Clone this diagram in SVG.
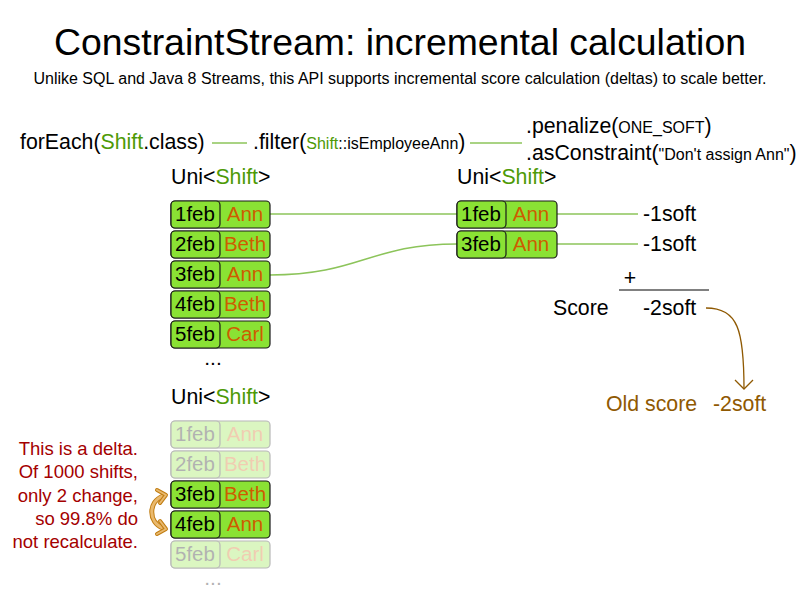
<svg xmlns="http://www.w3.org/2000/svg" width="800" height="600" viewBox="0 0 800 600">
<defs>
<style>
text{font-family:"Liberation Sans",Arial,sans-serif;fill:#000}
.g{fill:#4e9a06}
.o{fill:#ce5c00}
.cell{fill:#8ae234;stroke:#1a1a1a;stroke-width:1.2}
.d{font-size:20.5px}
.n{font-size:20.5px;text-anchor:middle}
.t{font-size:21.3px}
.s{font-size:16px}
.conn{fill:none;stroke:#8cc45a;stroke-width:1.5}
.fade{opacity:0.3}
.red{fill:#a40000;font-size:18.5px;text-anchor:end}
.br{fill:#8f5902}
</style>
<marker id="chev" viewBox="0 0 20 20" refX="10" refY="10" markerWidth="20" markerHeight="20" markerUnits="userSpaceOnUse" orient="auto">
<path d="M1,1 L10,10 L1,19" fill="none" stroke="#8f5902" stroke-width="1.3"/>
</marker>
</defs>
<rect width="800" height="600" fill="#fff"/>
<g id="title">
<text x="400" y="55" font-size="37.4" text-anchor="middle">ConstraintStream: incremental calculation</text>
<text x="400" y="84" font-size="16" text-anchor="middle">Unlike SQL and Java 8 Streams, this API supports incremental score calculation (deltas) to scale better.</text>
</g>
<g id="code">
<text x="20" y="149" class="t">forEach(<tspan class="g">Shift</tspan>.class)</text>
<text x="253" y="149" class="t">.filter(<tspan class="g s">Shift</tspan><tspan class="s">::isEmployeeAnn</tspan>)</text>
<text x="526" y="133" class="t">.penalize(<tspan class="s">ONE_SOFT</tspan>)</text>
<text x="526" y="160" class="t">.asConstraint(<tspan class="s">"Don't assign Ann"</tspan>)</text>
<text x="171" y="184" class="t">Uni&lt;<tspan class="g">Shift</tspan>&gt;</text>
<text x="457" y="184" class="t">Uni&lt;<tspan class="g">Shift</tspan>&gt;</text>
<text x="171" y="404" class="t">Uni&lt;<tspan class="g">Shift</tspan>&gt;</text>
</g>
<g id="connectors">
<line x1="212" y1="143" x2="247" y2="143" class="conn" stroke="#6fae3a"/>
<line x1="470" y1="143" x2="522" y2="143" class="conn" stroke="#6fae3a"/>
<path d="M270,214 L457,214" class="conn"/>
<path d="M270,275 C360,275 370,244 457,244" class="conn"/>
<path d="M557,214 L638,214" class="conn"/>
<path d="M557,244 L638,244" class="conn"/>
<line x1="619" y1="290" x2="709" y2="290" stroke="#808080" stroke-width="2"/>
<path d="M706,308 C738,308 744,330 744,389" fill="none" stroke="#8f5902" stroke-width="1.3" marker-end="url(#chev)"/>
</g>
<g id="table1">
<g id="t1r1"><rect x="171" y="201" width="99" height="27" rx="4" class="cell"/><rect x="171" y="201" width="49" height="27" rx="4" class="cell"/><text x="175" y="221" class="d">1feb</text><text x="245" y="221" class="n o">Ann</text></g>
<g id="t1r2"><rect x="171" y="231" width="99" height="27" rx="4" class="cell"/><rect x="171" y="231" width="49" height="27" rx="4" class="cell"/><text x="175" y="251" class="d">2feb</text><text x="245" y="251" class="n o">Beth</text></g>
<g id="t1r3"><rect x="171" y="261" width="99" height="27" rx="4" class="cell"/><rect x="171" y="261" width="49" height="27" rx="4" class="cell"/><text x="175" y="281" class="d">3feb</text><text x="245" y="281" class="n o">Ann</text></g>
<g id="t1r4"><rect x="171" y="291" width="99" height="27" rx="4" class="cell"/><rect x="171" y="291" width="49" height="27" rx="4" class="cell"/><text x="175" y="311" class="d">4feb</text><text x="245" y="311" class="n o">Beth</text></g>
<g id="t1r5"><rect x="171" y="321" width="99" height="27" rx="4" class="cell"/><rect x="171" y="321" width="49" height="27" rx="4" class="cell"/><text x="175" y="341" class="d">5feb</text><text x="245" y="341" class="n o">Carl</text></g>
<text x="213" y="365" font-size="21" text-anchor="middle">...</text>
</g>
<g id="table2">
<g id="t2r1"><rect x="457" y="201" width="100" height="27" rx="4" class="cell"/><rect x="457" y="201" width="49" height="27" rx="4" class="cell"/><text x="461" y="221" class="d">1feb</text><text x="531" y="221" class="n o">Ann</text></g>
<g id="t2r2"><rect x="457" y="231" width="100" height="27" rx="4" class="cell"/><rect x="457" y="231" width="49" height="27" rx="4" class="cell"/><text x="461" y="251" class="d">3feb</text><text x="531" y="251" class="n o">Ann</text></g>
</g>
<g id="score">
<text x="643" y="221" class="t">-1soft</text>
<text x="643" y="251" class="t">-1soft</text>
<text x="630" y="285" class="t" text-anchor="middle">+</text>
<text x="553" y="315" class="t">Score</text>
<text x="643" y="315" class="t">-2soft</text>
<text x="606" y="411" class="t br">Old score</text>
<text x="713" y="411" class="t br">-2soft</text>
</g>
<g id="table3">
<g id="t3r1" class="fade"><rect x="171" y="421" width="99" height="27" rx="4" class="cell"/><rect x="171" y="421" width="49" height="27" rx="4" class="cell"/><text x="175" y="441" class="d">1feb</text><text x="245" y="441" class="n o">Ann</text></g>
<g id="t3r2" class="fade"><rect x="171" y="451" width="99" height="27" rx="4" class="cell"/><rect x="171" y="451" width="49" height="27" rx="4" class="cell"/><text x="175" y="471" class="d">2feb</text><text x="245" y="471" class="n o">Beth</text></g>
<g id="t3r3"><rect x="171" y="481" width="99" height="27" rx="4" class="cell"/><rect x="171" y="481" width="49" height="27" rx="4" class="cell"/><text x="175" y="501" class="d">3feb</text><text x="245" y="501" class="n o">Beth</text></g>
<g id="t3r4"><rect x="171" y="511" width="99" height="27" rx="4" class="cell"/><rect x="171" y="511" width="49" height="27" rx="4" class="cell"/><text x="175" y="531" class="d">4feb</text><text x="245" y="531" class="n o">Ann</text></g>
<g id="t3r5" class="fade"><rect x="171" y="541" width="99" height="27" rx="4" class="cell"/><rect x="171" y="541" width="49" height="27" rx="4" class="cell"/><text x="175" y="561" class="d">5feb</text><text x="245" y="561" class="n o">Carl</text></g>
<text x="213" y="585" font-size="21" text-anchor="middle" class="fade">...</text>
</g>
<g id="swap">
<path d="M163,496 C148,502 148,522 163,528" fill="none" stroke="#c17d11" stroke-width="5" stroke-linecap="round"/>
<path d="M163,496 C148,502 148,522 163,528" fill="none" stroke="#e9b96e" stroke-width="3" stroke-linecap="round"/>
<path d="M157,490 L166,495 L160,503" fill="none" stroke="#c17d11" stroke-width="4" stroke-linejoin="round" stroke-linecap="round"/>
<path d="M157,490 L166,495 L160,503" fill="none" stroke="#e9b96e" stroke-width="2" stroke-linejoin="round" stroke-linecap="round"/>
<path d="M160,521 L166,529 L157,534" fill="none" stroke="#c17d11" stroke-width="4" stroke-linejoin="round" stroke-linecap="round"/>
<path d="M160,521 L166,529 L157,534" fill="none" stroke="#e9b96e" stroke-width="2" stroke-linejoin="round" stroke-linecap="round"/>
</g>
<g id="note">
<text x="138" y="455" class="red">This is a delta.</text>
<text x="138" y="478" class="red">Of 1000 shifts,</text>
<text x="138" y="502" class="red">only 2 change,</text>
<text x="138" y="525" class="red">so 99.8% do</text>
<text x="138" y="548" class="red">not recalculate.</text>
</g>
</svg>
